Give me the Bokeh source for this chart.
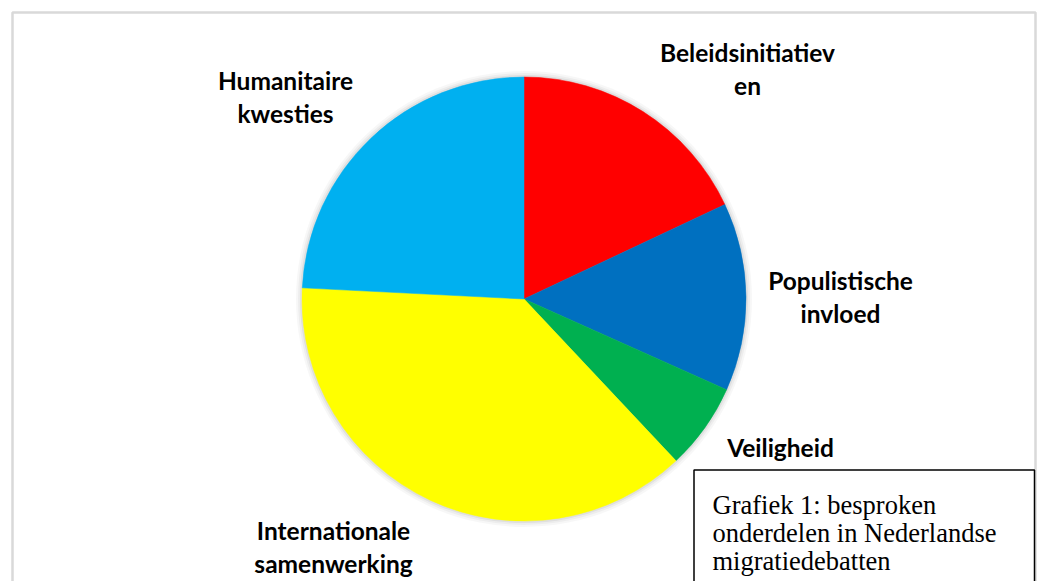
import math
from bokeh.plotting import figure
from bokeh.models import Range1d
from bokeh.embed import file_html
from bokeh.resources import INLINE
from bokeh.core.properties import value

# ---- data ----
categories = ["Beleidsinitiatieven", "Populistische invloed", "Veiligheid",
              "Internationale samenwerking", "Humanitaire kwesties"]
shares = [18.0, 13.7, 6.3, 37.8, 24.2]
colors = ["#FF0000", "#0070C0", "#00B050", "#FFFF00", "#00B0F0"]
label_lines = [["Beleidsinitiatiev", "en"], ["Populistische", "invloed"], ["Veiligheid"],
               ["Internationale", "samenwerking"], ["Humanitaire", "kwesties"]]
caption_lines = ["Grafiek 1: besproken", "onderdelen in Nederlandse", "migratiedebatten"]

# ---- layout (picture pixel coordinates) ----
W, H = 1037, 581


def Y(py):
    return H - py


label_pos = [(747, 52), (840, 280), (780, 447), (333, 530), (285, 80)]
LINE_GAP = 32.5
cx, cy, r = 523.5, 298.5, 222

p = figure(width=W, height=H, output_backend="svg", toolbar_location=None,
           x_range=Range1d(0, W), y_range=Range1d(0, H),
           min_border=0, outline_line_color=None)
p.axis.visible = False
p.grid.visible = False
p.background_fill_color = "white"
p.border_fill_color = "white"

# chart border
p.quad(left=[12], right=[1035], top=[Y(12)], bottom=[Y(620)],
       fill_color=None, line_color="#d9d9d9", line_width=2.5)

# soft shadow
for k, a in [(6, 0.03), (4, 0.04), (2, 0.06)]:
    p.circle(x=[cx], y=[Y(cy)], radius=r + k, fill_color="#000000",
             fill_alpha=a, line_color=None)

total = sum(shares)
cum = 0.0
starts, ends = [], []
for s in shares:
    starts.append(math.pi / 2 - 2 * math.pi * cum / total)
    cum += s
    ends.append(math.pi / 2 - 2 * math.pi * cum / total)

p.wedge(x=[cx] * len(shares), y=[Y(cy)] * len(shares), radius=r,
        start_angle=starts, end_angle=ends, direction="clock",
        fill_color=colors, line_color=colors, line_width=0.5)

# labels
for lines, (lx, ly) in zip(label_lines, label_pos):
    for i, t in enumerate(lines):
        p.text(x=[lx], y=[Y(ly + i * LINE_GAP)], text=[t], text_align="center",
               text_baseline="middle", text_font=value("Lato"),
               text_font_style="bold", text_font_size="24.5px", text_color="#000000")

# caption box
p.quad(left=[693.5], right=[1034], top=[Y(469.5)], bottom=[Y(620)],
       fill_color="white", line_color="#000000", line_width=1.5)
for i, t in enumerate(caption_lines):
    p.text(x=[712], y=[Y(504 + i * 28)], text=[t], text_align="left",
           text_baseline="alphabetic", text_font=value("Liberation Serif"),
           text_font_size="26.5px", text_color="#000000")

open("out.html", "w").write(file_html(p, INLINE))
